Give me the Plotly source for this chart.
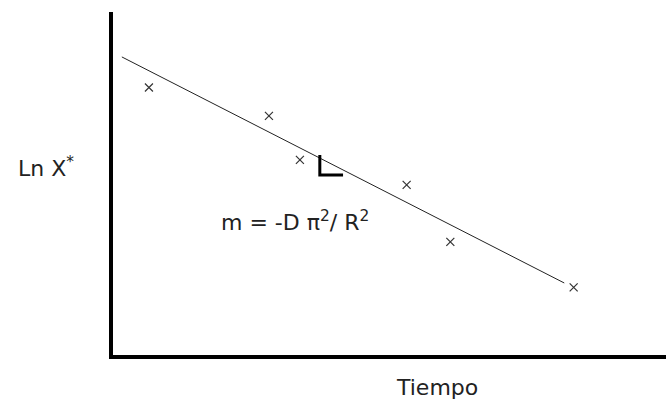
import plotly.graph_objects as go

# Measured points: time vs. natural log of the dimensionless moisture
tiempo = [0.65, 2.82, 3.38, 5.31, 6.10, 8.33]
ln_x = [7.80, 6.97, 5.69, 4.96, 3.30, 1.97]

# Fitted straight line (endpoints)
fit_t = [0.16, 8.16]
fit_y = [8.69, 2.10]

# Slope marker (right-angle legs under the line)
slope_t = [3.74, 3.74, 4.16]
slope_y = [5.83, 5.25, 5.25]

FONT = "DejaVu Sans"
INK = "#222222"

fig = go.Figure()

fig.add_trace(go.Scatter(
    x=fit_t, y=fit_y, mode="lines",
    line=dict(color="#222222", width=1),
    hoverinfo="skip", showlegend=False,
))

fig.add_trace(go.Scatter(
    x=slope_t, y=slope_y, mode="lines",
    line=dict(color="black", width=3),
    hoverinfo="skip", showlegend=False,
))

fig.add_trace(go.Scatter(
    x=tiempo, y=ln_x, mode="markers",
    marker=dict(symbol="x-thin", size=8,
                line=dict(color="#333333", width=1.2)),
    showlegend=False,
))

fig.add_annotation(
    x=1.92, y=3.90, xref="x", yref="y",
    text="m = -D π<sup>2</sup>/ R<sup>2</sup>",
    showarrow=False, xanchor="left", yanchor="middle",
    font=dict(family=FONT, size=22, color=INK),
)

fig.add_annotation(
    x=-0.175, y=0.548, xref="paper", yref="paper",
    text="Ln X<sup>*</sup>",
    showarrow=False, xanchor="left", yanchor="middle",
    font=dict(family=FONT, size=22, color=INK),
)

fig.add_annotation(
    x=0.585, y=-0.096, xref="paper", yref="paper",
    text="Tiempo",
    showarrow=False, xanchor="center", yanchor="middle",
    font=dict(family=FONT, size=22, color=INK),
)

axis_common = dict(
    showline=True, linewidth=4, linecolor="black",
    showgrid=False, zeroline=False, showticklabels=False,
    ticks="", fixedrange=True,
)

fig.update_layout(
    width=666, height=402,
    margin=dict(l=113, r=0, t=12, b=47),
    paper_bgcolor="white", plot_bgcolor="white",
    xaxis=dict(range=[0, 10], **axis_common),
    yaxis=dict(range=[0, 10], **axis_common),
)

fig.write_html("out.html", config={"displayModeBar": False})
